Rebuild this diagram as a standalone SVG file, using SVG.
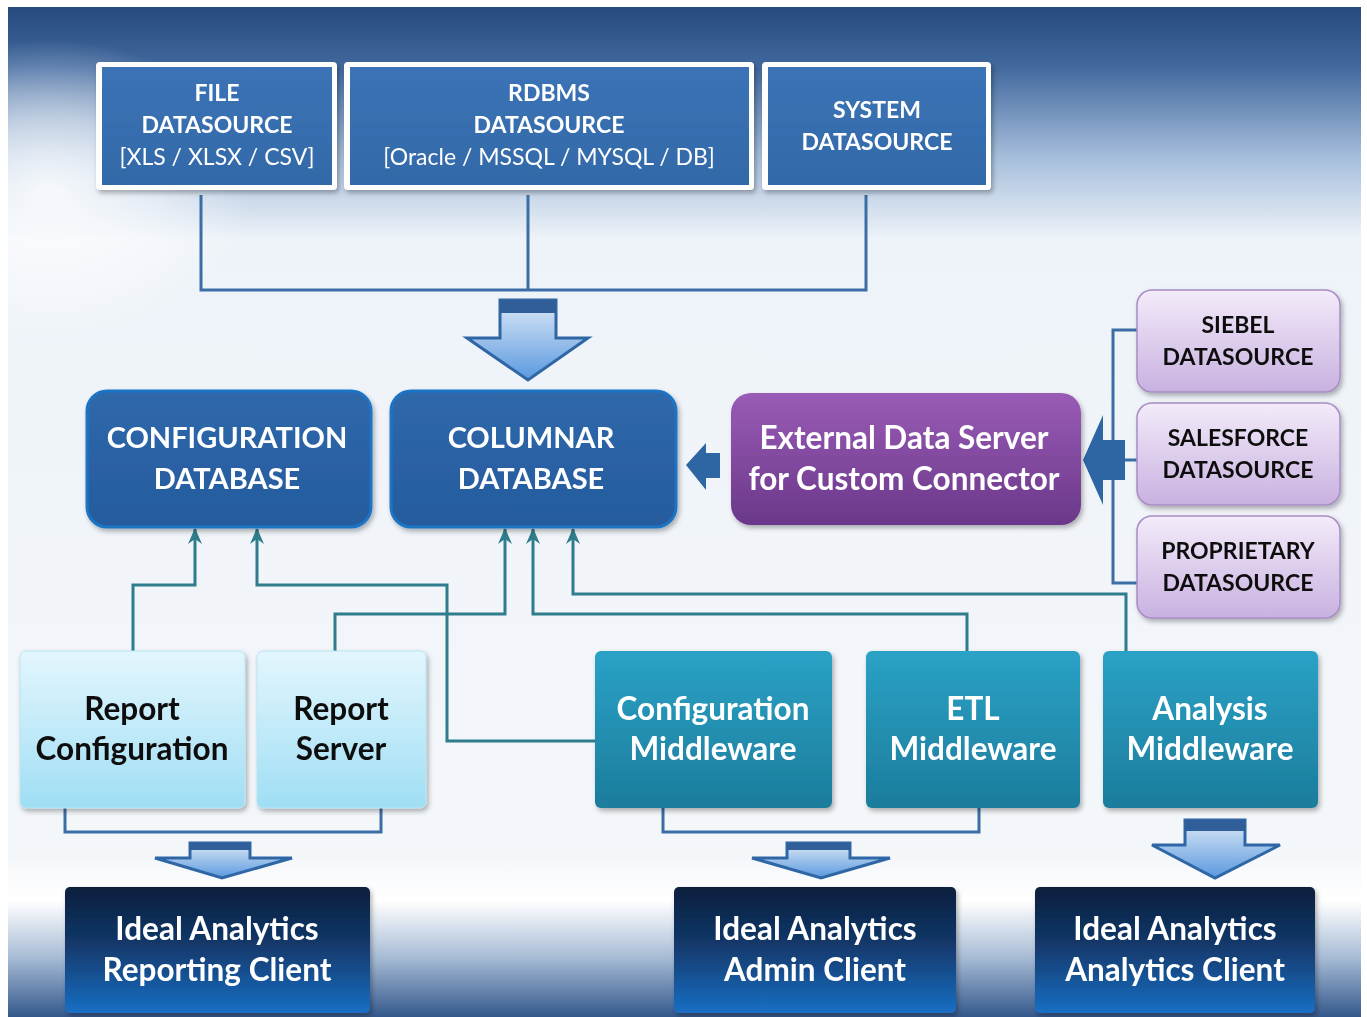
<svg xmlns="http://www.w3.org/2000/svg" width="1367" height="1017" viewBox="0 0 1367 1017">
<defs>
<style>
.t{font-family:Lato,"Open Sans","Liberation Sans",sans-serif;font-weight:bold;text-anchor:middle}
.w{fill:#ffffff}
.k{fill:#111111}
.s23{font-size:23px}
.s29{font-size:29px}
.s31{font-size:31.5px}
.reg{font-weight:normal}
.lb{fill:none;stroke:#3c6ea6;stroke-width:3}
.lt{fill:none;stroke:#2f7d8c;stroke-width:3}
.barrow{stroke:#2f66a5;stroke-width:3;fill:url(#gArrow)}
.band{fill:#2f5e98}
.solid{fill:#2d66a3}
</style>
<linearGradient id="gBg" x1="0" y1="0" x2="0" y2="1">
<stop offset="0" stop-color="#264a7c"/>
<stop offset="0.06" stop-color="#42699e"/>
<stop offset="0.15" stop-color="#a7bfdc"/>
<stop offset="0.23" stop-color="#eef3f9"/>
<stop offset="0.84" stop-color="#f4f7fa"/>
<stop offset="0.885" stop-color="#ffffff"/>
<stop offset="0.94" stop-color="#a9bdd6"/>
<stop offset="1" stop-color="#34588c"/>
</linearGradient>
<radialGradient id="gLeft" cx="0.5" cy="0.5" r="0.5">
<stop offset="0" stop-color="#ffffff" stop-opacity="0.85"/>
<stop offset="0.5" stop-color="#ffffff" stop-opacity="0.5"/>
<stop offset="1" stop-color="#ffffff" stop-opacity="0"/>
</radialGradient>
<linearGradient id="gTop" x1="0" y1="0" x2="0" y2="1">
<stop offset="0" stop-color="#3b73b6"/>
<stop offset="1" stop-color="#3269a8"/>
</linearGradient>
<linearGradient id="gDb" x1="0" y1="0" x2="0" y2="1">
<stop offset="0" stop-color="#2f68aa"/>
<stop offset="1" stop-color="#255c9e"/>
</linearGradient>
<linearGradient id="gExt" x1="0" y1="0" x2="0" y2="1">
<stop offset="0" stop-color="#9a5bb6"/>
<stop offset="1" stop-color="#6a3889"/>
</linearGradient>
<linearGradient id="gLav" x1="0" y1="0" x2="0" y2="1">
<stop offset="0" stop-color="#f3ebfa"/>
<stop offset="1" stop-color="#c8b1e0"/>
</linearGradient>
<linearGradient id="gCyan" x1="0" y1="0" x2="0" y2="1">
<stop offset="0" stop-color="#e3f6fd"/>
<stop offset="1" stop-color="#9fdef4"/>
</linearGradient>
<linearGradient id="gTeal" x1="0" y1="0" x2="0" y2="1">
<stop offset="0" stop-color="#2aa2c6"/>
<stop offset="1" stop-color="#1c7c9c"/>
</linearGradient>
<linearGradient id="gNavy" x1="0" y1="0" x2="0" y2="1">
<stop offset="0" stop-color="#0c1f3c"/>
<stop offset="0.45" stop-color="#12386a"/>
<stop offset="1" stop-color="#1a6fc4"/>
</linearGradient>
<linearGradient id="gArrow" x1="0" y1="0" x2="0" y2="1">
<stop offset="0" stop-color="#dce8f6"/>
<stop offset="1" stop-color="#5a99df"/>
</linearGradient>
<filter id="sh" x="-10%" y="-10%" width="125%" height="130%">
<feDropShadow dx="2" dy="3" stdDeviation="2.5" flood-color="#000000" flood-opacity="0.3"/>
</filter>
<marker id="ah" markerUnits="userSpaceOnUse" markerWidth="16" markerHeight="16" viewBox="0 0 16 16" refX="15" refY="8" orient="auto">
<path d="M0,1 L16,8 L0,15 L5,8 Z" fill="#2f7d8c"/>
</marker>
</defs>

<rect x="0" y="0" width="1367" height="1017" fill="#ffffff"/>
<rect x="8" y="7" width="1353" height="1010" fill="url(#gBg)"/>
<rect x="-150" y="40" width="400" height="300" fill="url(#gLeft)"/>
<rect x="0" y="0" width="8" height="1017" fill="#ffffff"/>
<rect x="0" y="0" width="1367" height="7" fill="#ffffff"/>

<g id="connectors">
<path class="lb" d="M201,195 V290 H866 V195 M528,195 V290"/>
<path class="lb" d="M1137,330 H1113 V583 H1137 M1113,460 H1137"/>
<path class="lb" d="M65,808 V832 H381 V808"/>
<path class="lb" d="M663,808 V832 H979 V808"/>
<path class="lt" d="M133,651 V585 H195 V529" marker-end="url(#ah)"/>
<path class="lt" d="M595,741 H447 V585 H257 V529" marker-end="url(#ah)"/>
<path class="lt" d="M335,651 V614 H505 V529" marker-end="url(#ah)"/>
<path class="lt" d="M967,651 V614 H533 V529" marker-end="url(#ah)"/>
<path class="lt" d="M1126,651 V594 H573 V529" marker-end="url(#ah)"/>
<g id="arrow-top">
<path class="barrow" d="M500,300 H556 V338 H588 L528,380 L467,338 H500 Z"/>
<rect class="band" x="500" y="300" width="56" height="13"/>
</g>
<g id="arrow-report">
<path class="barrow" d="M190,843 H250 V858 H292 L222,878 L155,858 H190 Z"/>
<rect class="band" x="190" y="843" width="60" height="7"/>
</g>
<g id="arrow-admin">
<path class="barrow" d="M787,843 H850 V858 H890 L821,878 L752,858 H787 Z"/>
<rect class="band" x="787" y="843" width="63" height="7"/>
</g>
<g id="arrow-analytics">
<path class="barrow" d="M1185,820 H1245 V845 H1280 L1215,878 L1152,845 H1185 Z"/>
<rect class="band" x="1185" y="820" width="60" height="11"/>
</g>
<path id="arrow-columnar" class="solid" d="M686,465 L706,443 V453 H720 V478 H706 V490 Z"/>
<path id="arrow-external" class="solid" d="M1083,460 L1103,415 V440 H1125 V480 H1103 V505 Z"/>
</g>

<g id="file-ds" filter="url(#sh)">
<rect x="96" y="62" width="241" height="128" rx="4" fill="#ffffff"/>
<rect x="102" y="67" width="230" height="118" fill="url(#gTop)"/>
<text class="t w s23" x="217" y="101">FILE</text>
<text class="t w s23" x="217" y="133">DATASOURCE</text>
<text class="t w s23 reg" x="217" y="165">[XLS / XLSX / CSV]</text>
</g>
<g id="rdbms-ds" filter="url(#sh)">
<rect x="344" y="62" width="410" height="128" rx="4" fill="#ffffff"/>
<rect x="350" y="67" width="399" height="118" fill="url(#gTop)"/>
<text class="t w s23" x="549" y="101">RDBMS</text>
<text class="t w s23" x="549" y="133">DATASOURCE</text>
<text class="t w s23 reg" x="549" y="165">[Oracle / MSSQL / MYSQL / DB]</text>
</g>
<g id="system-ds" filter="url(#sh)">
<rect x="762" y="62" width="229" height="128" rx="4" fill="#ffffff"/>
<rect x="768" y="67" width="218" height="118" fill="url(#gTop)"/>
<text class="t w s23" x="877" y="118">SYSTEM</text>
<text class="t w s23" x="877" y="150">DATASOURCE</text>
</g>

<g id="config-db" filter="url(#sh)">
<rect x="87" y="391" width="284" height="136" rx="20" fill="url(#gDb)" stroke="#1f74c4" stroke-width="3"/>
<text class="t w s29" x="227" y="448">CONFIGURATION</text>
<text class="t w s29" x="227" y="489">DATABASE</text>
</g>
<g id="columnar-db" filter="url(#sh)">
<rect x="391" y="391" width="285" height="136" rx="20" fill="url(#gDb)" stroke="#1f74c4" stroke-width="3"/>
<text class="t w s29" x="531" y="448">COLUMNAR</text>
<text class="t w s29" x="531" y="489">DATABASE</text>
</g>
<g id="external-server" filter="url(#sh)">
<rect x="731" y="393" width="350" height="132" rx="20" fill="url(#gExt)"/>
<text class="t w s31" x="904" y="449">External Data Server</text>
<text class="t w s31" x="904" y="490">for Custom Connector</text>
</g>

<g id="siebel-ds" filter="url(#sh)">
<rect x="1137" y="290" width="203" height="102" rx="15" fill="url(#gLav)" stroke="#a98cc4" stroke-width="1.5"/>
<text class="t k s23" x="1238" y="333">SIEBEL</text>
<text class="t k s23" x="1238" y="365">DATASOURCE</text>
</g>
<g id="salesforce-ds" filter="url(#sh)">
<rect x="1137" y="403" width="203" height="102" rx="15" fill="url(#gLav)" stroke="#a98cc4" stroke-width="1.5"/>
<text class="t k s23" x="1238" y="446">SALESFORCE</text>
<text class="t k s23" x="1238" y="478">DATASOURCE</text>
</g>
<g id="proprietary-ds" filter="url(#sh)">
<rect x="1137" y="516" width="203" height="102" rx="15" fill="url(#gLav)" stroke="#a98cc4" stroke-width="1.5"/>
<text class="t k s23" x="1238" y="559">PROPRIETARY</text>
<text class="t k s23" x="1238" y="591">DATASOURCE</text>
</g>

<g id="report-config" filter="url(#sh)">
<rect x="20" y="651" width="225" height="157" rx="6" fill="url(#gCyan)" stroke="#b8e4f2" stroke-width="1"/>
<text class="t k s31" x="132" y="720">Report</text>
<text class="t k s31" x="132" y="760">Configuration</text>
</g>
<g id="report-server" filter="url(#sh)">
<rect x="257" y="651" width="169" height="157" rx="6" fill="url(#gCyan)" stroke="#b8e4f2" stroke-width="1"/>
<text class="t k s31" x="341" y="720">Report</text>
<text class="t k s31" x="341" y="760">Server</text>
</g>
<g id="config-middleware" filter="url(#sh)">
<rect x="595" y="651" width="237" height="157" rx="6" fill="url(#gTeal)"/>
<text class="t w s31" x="713" y="720">Configuration</text>
<text class="t w s31" x="713" y="760">Middleware</text>
</g>
<g id="etl-middleware" filter="url(#sh)">
<rect x="866" y="651" width="214" height="157" rx="6" fill="url(#gTeal)"/>
<text class="t w s31" x="973" y="720">ETL</text>
<text class="t w s31" x="973" y="760">Middleware</text>
</g>
<g id="analysis-middleware" filter="url(#sh)">
<rect x="1103" y="651" width="215" height="157" rx="6" fill="url(#gTeal)"/>
<text class="t w s31" x="1210" y="720">Analysis</text>
<text class="t w s31" x="1210" y="760">Middleware</text>
</g>

<g id="reporting-client" filter="url(#sh)">
<rect x="65" y="887" width="305" height="126" rx="5" fill="url(#gNavy)"/>
<text class="t w s31" x="217" y="940">Ideal Analytics</text>
<text class="t w s31" x="217" y="981">Reporting Client</text>
</g>
<g id="admin-client" filter="url(#sh)">
<rect x="674" y="887" width="282" height="126" rx="5" fill="url(#gNavy)"/>
<text class="t w s31" x="815" y="940">Ideal Analytics</text>
<text class="t w s31" x="815" y="981">Admin Client</text>
</g>
<g id="analytics-client" filter="url(#sh)">
<rect x="1035" y="887" width="280" height="126" rx="5" fill="url(#gNavy)"/>
<text class="t w s31" x="1175" y="940">Ideal Analytics</text>
<text class="t w s31" x="1175" y="981">Analytics Client</text>
</g>
</svg>
